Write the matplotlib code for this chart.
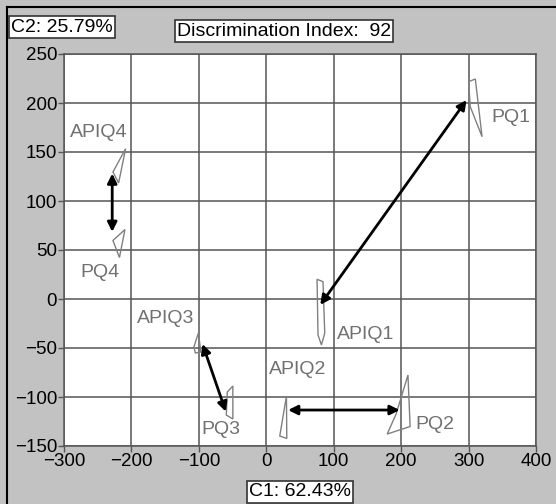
import matplotlib.pyplot as plt
from matplotlib.lines import Line2D

plt.rcParams['font.family'] = ['Liberation Sans', 'DejaVu Sans']

# outline shapes (C1, C2 scores)
pq1_x = [300, 310, 320, 302.5]
pq1_y = [221.7, 224.5, 165.6, 196.2]
apiq1_x = [75.3, 84.1, 86.7, 81.8, 76.7]
apiq1_y = [20.1, 17.7, -34.7, -46.9, -36.7]
apiq4_x = [-208.6, -227.4, -219]
apiq4_y = [153.4, 129.6, 118.4]
pq4_x = [-209.6, -227.4, -217.8]
pq4_y = [70.9, 59.7, 42.3]
apiq3_x = [-100.7, -107.4, -105.2, -97]
apiq3_y = [-34.7, -49, -55.1, -54.1]
pq3_x = [-49.6, -57.8, -59.3, -49.6]
pq3_y = [-88.8, -94.9, -118.4, -122.4]
apiq2_x = [29.9, 20, 30.4]
apiq2_y = [-99, -139.8, -142.3]
pq2_x = [210.1, 192.6, 179.3, 213.3]
pq2_y = [-77.6, -117.3, -137.8, -130.1]

shapes = [(pq1_x, pq1_y), (apiq1_x, apiq1_y), (apiq4_x, apiq4_y), (pq4_x, pq4_y),
          (apiq3_x, apiq3_y), (pq3_x, pq3_y), (apiq2_x, apiq2_y), (pq2_x, pq2_y)]

# arrows: (x0, y0, x1, y1)
arrows = [(80, -6, 297, 203),
          (-228.5, 128, -228.5, 68.5),
          (-94.6, -45.9, -60, -115),
          (32.3, -113.3, 197.8, -113.3)]

label_text = ['PQ1', 'APIQ1', 'APIQ4', 'PQ4', 'APIQ3', 'PQ3', 'APIQ2', 'PQ2']
label_x = [362, 146.7, -249, -247, -150, -67.4, 46.2, 250]
label_y = [184.7, -36.7, 170.4, 27, -20.2, -133.4, -72.4, -128]

xticks = [-300, -200, -100, 0, 100, 200, 300, 400]
yticks = [-150, -100, -50, 0, 50, 100, 150, 200, 250]

bg = '#c2c2c2'
fig = plt.figure(figsize=(5.56, 5.04), dpi=100, facecolor=bg)
ax = fig.add_axes([64/556, 1-446/504, 472/556, 392/504])
ax.set_xlim(-300, 400)
ax.set_ylim(-150, 250)
ax.set_xticks(xticks)
ax.set_yticks(yticks)
ax.grid(True, color='#555555', lw=1.1)
ax.set_axisbelow(True)
for s in ax.spines.values():
    s.set_color('#555555')
    s.set_linewidth(1.1)
ax.tick_params(colors='#555555', length=4, width=1, labelsize=13.5, labelcolor='black', pad=1)

for xs, ys in shapes:
    ax.fill(xs, ys, facecolor='none', edgecolor='#808080', lw=1)

for x0, y0, x1, y1 in arrows:
    ax.annotate('', xy=(x1, y1), xytext=(x0, y0),
                arrowprops=dict(arrowstyle='<|-|>', color='black', lw=2,
                                mutation_scale=14, shrinkA=0, shrinkB=0))

for t, x, y in zip(label_text, label_x, label_y):
    ax.text(x, y, t, color='#707070', fontsize=14, ha='center', va='center')

box = dict(boxstyle='square,pad=0.12', facecolor='white', edgecolor='#333333', lw=1.2)
fig.text(62/556, 1-27/504, 'C2: 25.79%', fontsize=14, ha='center', va='center', bbox=box)
fig.text(284/556, 1-31/504, 'Discrimination Index:  92', fontsize=14, ha='center', va='center', bbox=box)
fig.text(300/556, 1-492/504, 'C1: 62.43%', fontsize=14, ha='center', va='center', bbox=box)

fig.add_artist(Line2D([7/556, 1], [1-7/504, 1-7/504], color='black', lw=1.5))
fig.add_artist(Line2D([7/556, 7/556], [0, 1-7/504], color='black', lw=1.5))

fig.savefig('out.png', dpi=100, facecolor=bg)
